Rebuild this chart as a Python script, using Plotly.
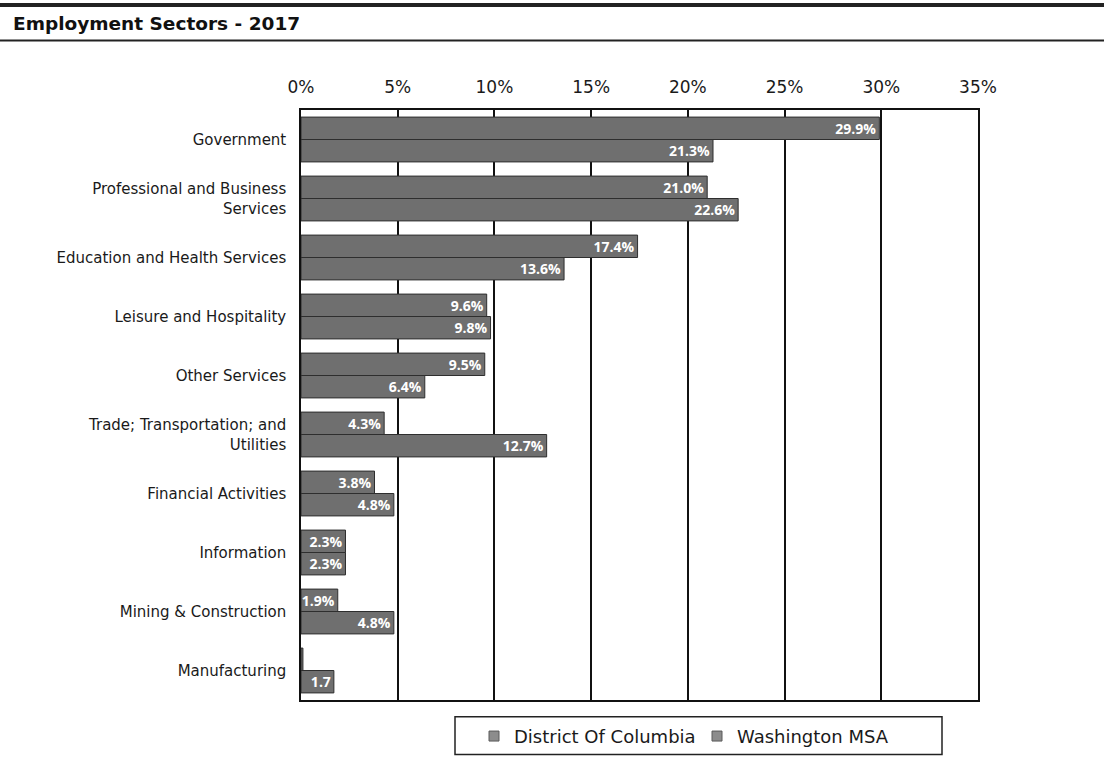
import plotly.graph_objects as go

# Employment share by sector, 2017
sectors = [
    "Government",
    "Professional and Business<br>Services",
    "Education and Health Services",
    "Leisure and Hospitality",
    "Other Services",
    "Trade; Transportation; and<br>Utilities",
    "Financial Activities",
    "Information",
    "Mining & Construction",
    "Manufacturing",
]
dc_share = [29.9, 21.0, 17.4, 9.6, 9.5, 4.3, 3.8, 2.3, 1.9, 0.1]
msa_share = [21.3, 22.6, 13.6, 9.8, 6.4, 12.7, 4.8, 2.3, 4.8, 1.7]
dc_labels = ["29.9%", "21.0%", "17.4%", "9.6%", "9.5%", "4.3%", "3.8%", "2.3%", "1.9%", ""]
msa_labels = ["21.3%", "22.6%", "13.6%", "9.8%", "6.4%", "12.7%", "4.8%", "2.3%", "4.8%", "1.7"]
series_names = ["District Of Columbia", "Washington MSA"]
tick_vals = [0, 5, 10, 15, 20, 25, 30, 35]
tick_text = ["0%", "5%", "10%", "15%", "20%", "25%", "30%", "35%"]

bar_fill = "#6f6f6f"
bar_edge = "#2e2e2e"
key_fill = "#8c8c8c"
base_font = "DejaVu Sans, Arial, sans-serif"
label_font = dict(family="Open Sans, Noto Sans, sans-serif", size=14, color="white")

fig = go.Figure()
for name, values, labels in [(series_names[0], dc_share, dc_labels),
                             (series_names[1], msa_share, msa_labels)]:
    fig.add_trace(go.Bar(
        y=sectors, x=values, orientation="h", name=name, showlegend=False,
        marker=dict(color=bar_fill, line=dict(color=bar_edge, width=1)),
        text=[f"<b>{t}</b>" for t in labels], textposition="inside",
        insidetextanchor="end", constraintext="none", textfont=label_font,
        cliponaxis=False,
    ))

# legend keys: small light-grey squares
for name in series_names:
    fig.add_trace(go.Scatter(
        x=[None], y=[None], mode="markers", name=name,
        marker=dict(symbol="square", size=10, color=key_fill,
                    line=dict(color="#5a5a5a", width=1)),
    ))

# Plot area spans roughly x 301..978 px, y 110..705 px
x_left, x_w = 301, 677
y_bot, y_h = 705, 595
def px_x(p):
    return (p - x_left) / x_w
def px_y(p):
    return (y_bot - p) / y_h

shapes = [
    dict(type="line", xref="paper", yref="paper", x0=px_x(0), x1=px_x(1104),
         y0=px_y(4), y1=px_y(4), line=dict(color="#222", width=4)),
    dict(type="line", xref="paper", yref="paper", x0=px_x(0), x1=px_x(1104),
         y0=px_y(40), y1=px_y(40), line=dict(color="#222", width=2)),
    # legend frame
    dict(type="rect", xref="paper", yref="paper", x0=px_x(455), x1=px_x(942),
         y0=px_y(722), y1=px_y(760), line=dict(color="#222", width=1.5),
         fillcolor="rgba(0,0,0,0)"),
]

fig.update_layout(
    width=1104, height=767,
    margin=dict(l=301, r=126, t=110, b=62),
    paper_bgcolor="white", plot_bgcolor="white",
    barmode="group", bargap=0.24, bargroupgap=0.0,
    font=dict(family=base_font, color="#1a1a1a"),
    showlegend=True,
    legend=dict(
        orientation="h", x=px_x(474), xanchor="left", y=px_y(723), yanchor="top",
        borderwidth=0, bgcolor="rgba(0,0,0,0)", font=dict(size=18),
        entrywidth=178, entrywidthmode="pixels", traceorder="normal",
    ),
    shapes=shapes,
    annotations=[dict(
        text="<b>Employment Sectors - 2017</b>", xref="paper", yref="paper",
        x=px_x(11), y=px_y(23), xanchor="left", yanchor="middle",
        showarrow=False, font=dict(size=18.5, family=base_font, color="#111"),
    )],
)
fig.update_xaxes(
    side="top", range=[0, 35], tickvals=tick_vals, ticktext=tick_text,
    showgrid=True, gridcolor="#111", gridwidth=1.5, zeroline=False,
    showline=True, linecolor="#111", linewidth=1.5, mirror=True,
    ticks="", tickfont=dict(size=17), ticklabelstandoff=8,
)
fig.update_yaxes(
    autorange="reversed", showline=True, linecolor="#111", linewidth=1.5, mirror=True,
    ticks="", tickfont=dict(size=15), ticklabelstandoff=10,
)

fig.write_html("out.html")
